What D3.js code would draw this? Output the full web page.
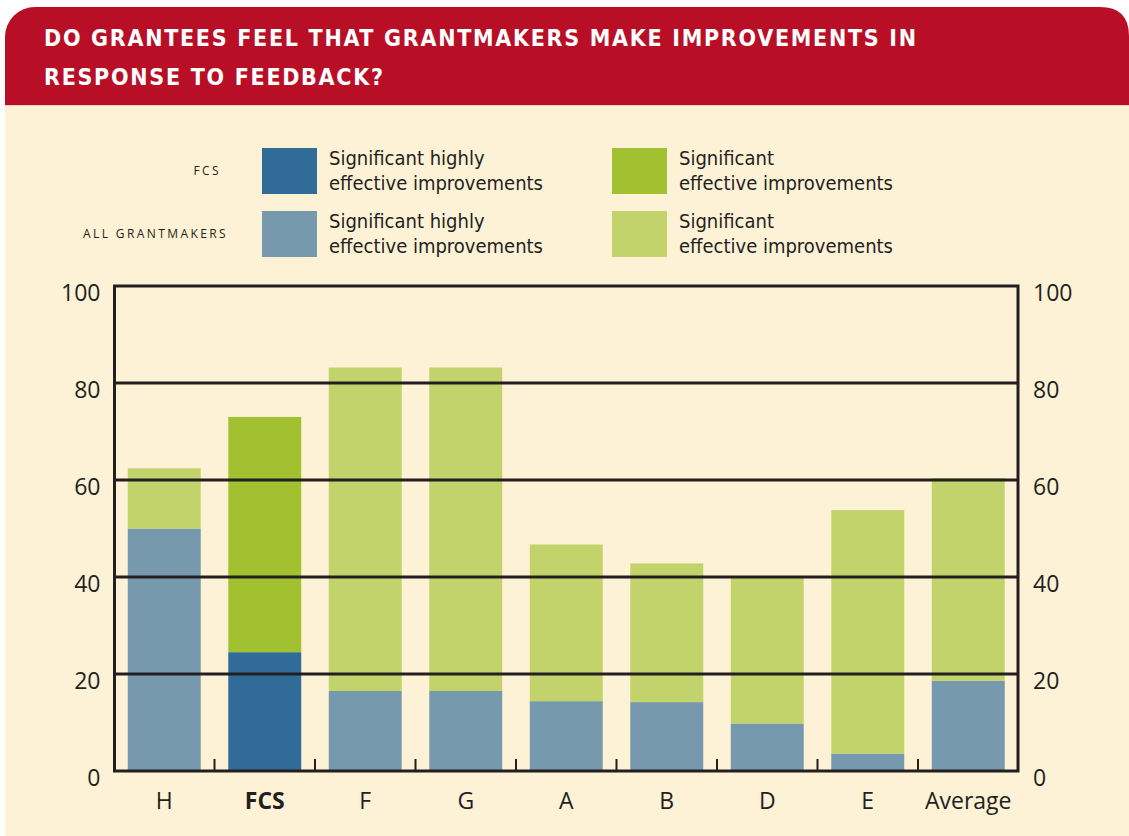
<!DOCTYPE html>
<html>
<head>
<meta charset="utf-8">
<script src="https://cdn.jsdelivr.net/npm/d3@7"></script>
<style>
  body { margin: 0; background: #fff; }
  svg { display: block; }
</style>
</head>
<body>
<svg></svg>
<script>
// chart data
let categories = ['H', 'FCS', 'F', 'G', 'A', 'B', 'D', 'E', 'Average'];
let highly = [50, 24.5, 16.5, 16.5, 14.4, 14.2, 9.8, 3.6, 18.6];
let effective = [12.4, 48.5, 66.7, 66.7, 32.3, 28.6, 30.2, 50.2, 41.8];
let yTicks = [0, 20, 40, 60, 80, 100];
let titleLines = ['DO GRANTEES FEEL THAT GRANTMAKERS MAKE IMPROVEMENTS IN', 'RESPONSE TO FEEDBACK?'];
let legendRows = ['FCS', 'ALL GRANTMAKERS'];
let legendItems = [['Significant highly', 'effective improvements'], ['Significant', 'effective improvements']];

let width = 1129;
let height = 836;
let plotLeft = 114.5, plotRight = 1018, plotTop = 286, plotBottom = 771;

let red = '#b90f26';
let cream = '#fdf2d6';
let ink = '#231f20';
let colors = {
    fcs: ['#316b98', '#a2c130'],
    all: ['#7699ae', '#c2d36b']
};

let condensed = '"Liberation Sans Narrow", "DejaVu Sans Condensed", "Open Sans", sans-serif';
let plain = '"Open Sans", "Noto Sans", sans-serif';

let svg = d3.select('svg').attr('width', width).attr('height', height);

// card background + red header
let clip = svg.append('defs').append('clipPath').attr('id', 'card');
clip.append('rect').attr('x', 5).attr('y', 7).attr('width', 1160).attr('height', 860).attr('rx', 30);
let card = svg.append('g').attr('clip-path', 'url(#card)');
card.append('rect').attr('x', 0).attr('y', 0).attr('width', width).attr('height', height).attr('fill', cream);
card.append('rect').attr('x', 0).attr('y', 0).attr('width', width).attr('height', 105).attr('fill', red);
card.append('rect').attr('x', 0).attr('y', 105).attr('width', width).attr('height', 1).attr('fill', '#f2c9c2');
// rounded top-right corner at the page edge
svg.append('path')
   .attr('d', 'M1100,7 Q1129,7 1129,36 L1129,0 L1100,0 Z')
   .attr('fill', '#fff');

// title, letter spacing stretched so the first line spans like the original
let titleSpacing = 0;
titleLines.forEach((line, i) => {
    let t = svg.append('text')
       .attr('x', 44)
       .attr('y', 46 + i * 39)
       .attr('fill', '#fff')
       .attr('font-family', condensed)
       .attr('font-weight', 'bold')
       .attr('font-size', 23)
       .text(line);
    if (i === 0) {
        let w = t.node().getComputedTextLength();
        titleSpacing = (872 - w) / (line.length - 1);
    }
    t.attr('letter-spacing', titleSpacing);
});

// legend
legendRows.forEach((label, r) => {
    let cy = 171 + r * 63;
    svg.append('text')
       .attr('x', r === 0 ? 221 : 228)
       .attr('y', cy + 4)
       .attr('text-anchor', 'end')
       .attr('fill', ink)
       .attr('font-family', plain)
       .attr('font-size', 12)
       .attr('letter-spacing', 2.4)
       .text(label);
    let pal = r === 0 ? colors.fcs : colors.all;
    legendItems.forEach((lines, c) => {
        let x0 = 262 + c * 350;
        svg.append('rect')
           .attr('x', x0).attr('y', cy - 23)
           .attr('width', 55).attr('height', 46)
           .attr('fill', pal[c]);
        lines.forEach((ln, k) => {
            svg.append('text')
               .attr('x', x0 + 67)
               .attr('y', cy - 6 + k * 25)
               .attr('fill', ink)
               .attr('font-family', condensed)
               .attr('font-size', 20)
               .text(ln);
        });
    });
});

// scales
let xScale = d3.scaleBand()
               .domain(categories)
               .range([plotLeft, plotRight])
               .paddingInner(0.274)
               .paddingOuter(0.132);
let yScale = d3.scaleLinear()
               .domain([0, 100])
               .range([plotBottom, plotTop]);

let rows = categories.map((c, i) => ({ cat: c, highly: highly[i], effective: effective[i] }));
let stacked = d3.stack().keys(['highly', 'effective'])(rows);

let bars = svg.append('g');
stacked.forEach((layer, li) => {
    bars.selectAll(null)
        .data(layer)
        .join('rect')
        .attr('x', d => xScale(d.data.cat))
        .attr('width', xScale.bandwidth())
        .attr('y', d => yScale(d[1]))
        .attr('height', d => yScale(d[0]) - yScale(d[1]))
        .attr('fill', d => (d.data.cat === 'FCS' ? colors.fcs : colors.all)[li]);
});

// gridlines drawn over the bars
svg.append('g')
   .selectAll('line')
   .data(yTicks.slice(1, -1))
   .join('line')
   .attr('x1', plotLeft).attr('x2', plotRight)
   .attr('y1', d => yScale(d)).attr('y2', d => yScale(d))
   .attr('stroke', ink).attr('stroke-width', 3);

// frame
svg.append('rect')
   .attr('x', plotLeft).attr('y', plotTop)
   .attr('width', plotRight - plotLeft).attr('height', plotBottom - plotTop)
   .attr('fill', 'none').attr('stroke', ink).attr('stroke-width', 3);

// small inward ticks between bars
let gap = xScale.step() - xScale.bandwidth();
svg.append('g')
   .selectAll('line')
   .data(categories.slice(1))
   .join('line')
   .attr('x1', d => xScale(d) - gap / 2)
   .attr('x2', d => xScale(d) - gap / 2)
   .attr('y1', plotBottom).attr('y2', plotBottom - 12)
   .attr('stroke', ink).attr('stroke-width', 2);

// y labels, both sides
let yLeft = d3.axisLeft(yScale).tickValues(yTicks).tickSize(0).tickPadding(14);
let yRight = d3.axisRight(yScale).tickValues(yTicks).tickSize(0).tickPadding(15);
[svg.append('g').attr('transform', `translate(${plotLeft},0)`).call(yLeft),
 svg.append('g').attr('transform', `translate(${plotRight},0)`).call(yRight)].forEach(g => {
    g.select('.domain').remove();
    g.selectAll('text')
     .attr('dy', '0.62em')
     .attr('fill', ink)
     .attr('font-family', plain)
     .attr('font-size', 23);
});

// x labels
let xAxis = d3.axisBottom(xScale).tickSize(0).tickPadding(22);
let gx = svg.append('g').attr('transform', `translate(0,${plotBottom})`).call(xAxis);
gx.select('.domain').remove();
gx.selectAll('text')
  .attr('fill', ink)
  .attr('font-family', plain)
  .attr('font-size', 23)
  .attr('font-weight', d => d === 'FCS' ? 'bold' : 'normal');
</script>
</body>
</html>
